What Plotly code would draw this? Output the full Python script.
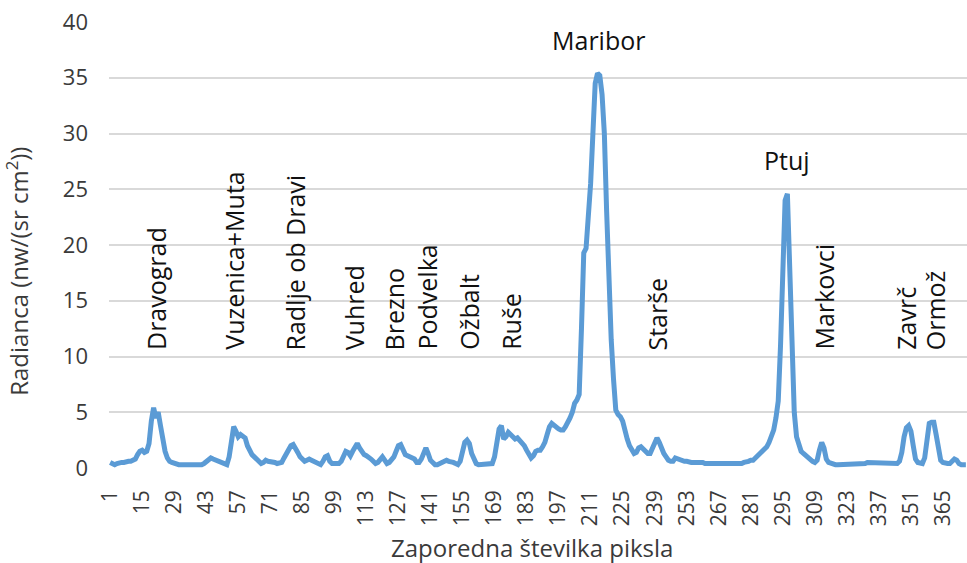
import plotly.graph_objects as go

# Radiance along the profile, one value per pixel (pixel 1 .. 375)
pixel_index = list(range(1, 376))
radiance = [
    0.5, 0.4, 0.3, 0.4, 0.5, 0.5, 0.5, 0.6, 0.6, 0.6, 0.7, 0.8, 1.2, 1.5,
    1.6, 1.4, 1.5, 2.2, 4.2, 5.4, 4.5, 5.0, 3.8, 2.5, 1.5, 0.9, 0.6, 0.5,
    0.4, 0.4, 0.3, 0.3, 0.3, 0.2, 0.2, 0.2, 0.2, 0.2, 0.2, 0.2, 0.3, 0.4,
    0.6, 0.8, 0.9, 0.8, 0.7, 0.6, 0.6, 0.5, 0.4, 0.3, 1.0, 2.5, 3.7, 3.3,
    2.8, 3.0, 2.8, 2.7, 2.0, 1.5, 1.2, 1.0, 0.8, 0.6, 0.4, 0.5, 0.7, 0.6,
    0.6, 0.6, 0.5, 0.4, 0.4, 0.5, 0.9, 1.3, 1.7, 2.0, 2.1, 1.8, 1.4, 1.0,
    0.8, 0.6, 0.7, 0.8, 0.7, 0.6, 0.5, 0.4, 0.3, 0.6, 1.0, 1.1, 0.6, 0.4,
    0.4, 0.4, 0.4, 0.6, 1.1, 1.5, 1.4, 1.1, 1.5, 1.9, 2.2, 1.8, 1.4, 1.2,
    1.1, 1.0, 0.8, 0.6, 0.4, 0.5, 0.8, 1.0, 0.7, 0.4, 0.5, 0.7, 1.0, 1.5,
    2.0, 2.1, 1.7, 1.2, 1.1, 1.0, 1.0, 0.8, 0.5, 0.5, 0.8, 1.4, 1.8, 1.3,
    0.7, 0.5, 0.3, 0.3, 0.4, 0.6, 0.7, 0.7, 0.6, 0.6, 0.5, 0.4, 0.3, 0.6,
    1.5, 2.3, 2.5, 2.2, 1.3, 0.7, 0.4, 0.3, 0.3, 0.3, 0.3, 0.3, 0.3, 0.4,
    1.0, 2.2, 3.5, 3.8, 2.6, 2.8, 3.2, 3.0, 2.8, 2.6, 2.7, 2.5, 2.3, 2.0,
    1.6, 1.2, 0.9, 1.1, 1.5, 1.6, 1.6, 1.9, 2.3, 3.0, 3.7, 4.0, 3.8, 3.6,
    3.5, 3.4, 3.4, 3.7, 4.0, 4.5, 5.0, 5.8, 6.1, 6.6, 12.5, 19.3, 19.7, 22.0,
    25.5, 30.0, 34.5, 35.4, 35.2, 33.5, 30.0, 23.0, 16.0, 11.5, 8.0, 5.2, 4.8, 4.6,
    4.2, 3.3, 2.6, 2.0, 1.6, 1.3, 1.4, 1.8, 1.9, 1.7, 1.5, 1.3, 1.3, 1.8,
    2.4, 2.7, 2.3, 1.7, 1.3, 1.0, 0.7, 0.6, 0.6, 0.9, 0.8, 0.7, 0.6, 0.6,
    0.6, 0.5, 0.5, 0.5, 0.5, 0.6, 0.6, 0.5, 0.4, 0.4, 0.3, 0.3, 0.3, 0.3,
    0.3, 0.3, 0.3, 0.3, 0.3, 0.3, 0.3, 0.3, 0.3, 0.4, 0.4, 0.5, 0.5, 0.6,
    0.7, 0.7, 0.9, 1.1, 1.2, 1.4, 1.7, 1.9, 2.3, 2.8, 3.4, 4.5, 6.0, 11.0,
    19.5, 24.0, 24.6, 18.5, 11.0, 5.0, 2.8, 2.0, 1.5, 1.3, 1.1, 1.0, 0.8, 0.6,
    0.5, 0.7, 1.6, 2.3, 1.8, 0.8, 0.5, 0.4, 0.4, 0.3, 0.3, 0.3, 0.3, 0.3,
    0.3, 0.3, 0.3, 0.4, 0.4, 0.4, 0.4, 0.4, 0.4, 0.5, 0.5, 0.5, 0.4, 0.4,
    0.4, 0.5, 0.5, 0.5, 0.4, 0.4, 0.4, 0.4, 0.4, 0.6, 1.4, 2.8, 3.6, 3.8,
    3.3, 2.0, 0.8, 0.5, 0.4, 0.4, 0.9, 2.6, 4.0, 4.1, 4.1, 3.0, 1.5, 0.7,
    0.5, 0.4, 0.4, 0.4, 0.6, 0.8, 0.7, 0.4, 0.3, 0.3, 0.3,
]

x_ticks = [1, 15, 29, 43, 57, 71, 85, 99, 113, 127, 141, 155, 169, 183,
           197, 211, 225, 239, 253, 267, 281, 295, 309, 323, 337, 351, 365]
y_ticks = [0, 5, 10, 15, 20, 25, 30, 35, 40]

# Settlements written vertically above the profile
vertical_names = ["Dravograd", "Vuzenica+Muta", "Radlje ob Dravi", "Vuhred",
                  "Brezno", "Podvelka", "Ožbalt", "Ruše", "Starše",
                  "Markovci", "Zavrč", "Ormož"]
vertical_pos = [20.8, 55.0, 82.0, 107.5, 125.0, 139.5, 157.7, 175.9,
                240.0, 312.8, 348.5, 361.6]
vertical_base = 10.4

# The two cities labelled horizontally over their peaks
peak_names = ["Maribor", "Ptuj"]
peak_pos = [214.5, 296.7]
peak_label_y = [38.4, 27.6]

FONT = "Open Sans"
TICK_COLOR = "#3a3a3a"

fig = go.Figure()
fig.add_trace(go.Scatter(
    x=pixel_index, y=radiance, mode="lines",
    line=dict(color="#5B9BD5", width=5),
    hoverinfo="x+y", showlegend=False,
))

annotations = []
for name, xp in zip(vertical_names, vertical_pos):
    annotations.append(dict(
        x=xp, y=vertical_base, xref="x", yref="y", text=name,
        textangle=-90, xanchor="center", yanchor="bottom", showarrow=False,
        font=dict(family=FONT, size=25, color="#111111"),
    ))
for name, xp, yp in zip(peak_names, peak_pos, peak_label_y):
    annotations.append(dict(
        x=xp, y=yp, xref="x", yref="y", text=name,
        xanchor="center", yanchor="middle", showarrow=False,
        font=dict(family=FONT, size=25, color="#111111"),
    ))
# y-axis title
annotations.append(dict(
    x=-0.106, y=0.44, xref="paper", yref="paper",
    text="Radianca (nw/(sr cm<sup>2</sup>))", textangle=-90,
    xanchor="center", yanchor="middle", showarrow=False,
    font=dict(family=FONT, size=24, color=TICK_COLOR),
))
# x-axis title
annotations.append(dict(
    x=0.493, y=-0.179, xref="paper", yref="paper",
    text="Zaporedna številka piksla",
    xanchor="center", yanchor="middle", showarrow=False,
    font=dict(family=FONT, size=24, color=TICK_COLOR),
))

fig.update_layout(
    width=967, height=563,
    margin=dict(l=109, r=0, t=22, b=95),
    paper_bgcolor="white", plot_bgcolor="white",
    annotations=annotations,
    xaxis=dict(
        range=[0.5, 375.5], tickmode="array", tickvals=x_ticks,
        ticktext=[str(v) for v in x_ticks], tickangle=-90,
        showgrid=False, zeroline=False, showline=False, ticks="",
        ticklabelstandoff=17,
        tickfont=dict(family=FONT, size=21, color=TICK_COLOR),
    ),
    yaxis=dict(
        range=[0, 40], tickmode="array", tickvals=y_ticks,
        showgrid=True, gridcolor="#D9D9D9", gridwidth=1.5,
        zeroline=False, showline=False, ticks="",
        ticklabelstandoff=20,
        tickfont=dict(family=FONT, size=22, color=TICK_COLOR),
    ),
)

fig.write_html("out.html")
